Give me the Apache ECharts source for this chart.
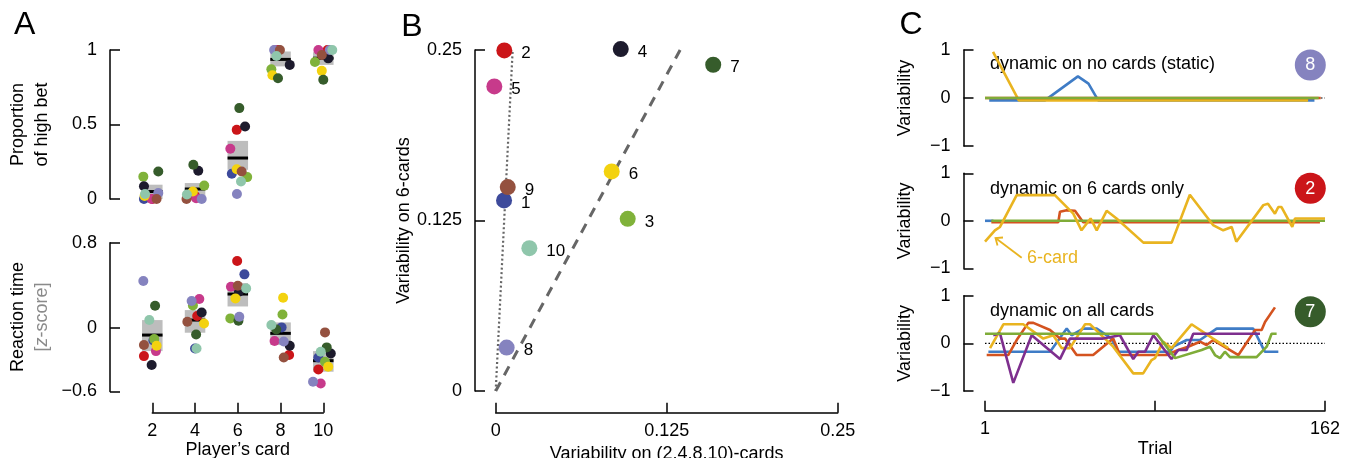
<!DOCTYPE html>
<html><head><meta charset="utf-8">
<script src="https://cdn.jsdelivr.net/npm/echarts@6/dist/echarts.min.js"></script>
<style>html,body{margin:0;padding:0;background:#fff}#c{width:1356px;height:458px}</style>
</head><body><div id="c"></div><script>
const FONT = '"Liberation Sans", Arial, Helvetica, sans-serif';

const cards = [2, 4, 6, 8, 10];
const participants = ['1','2','3','4','5','6','7','8','9','10'];
const participantColors = ['#3d4a9b','#cb1519','#80b23a','#1d1b2d','#c73a8b','#f3d20f','#365c2b','#8583bf','#94513f','#8fc6ab'];

// Panel A (top): proportion of high bet; rows = participants 1..10, columns = cards 2..10
const highBet = [
  [0, 0.04, 0.17, 1, 0.97],
  [0, 0.02, 0.464, 1, 1],
  [0.15, 0.09, 0.147, 0.87, 0.92],
  [0.085, 0.19, 0.487, 0.9, 0.944],
  [0, 0.005, 0.337, 1, 1],
  [0.02, 0.05, 0.2, 0.83, 0.86],
  [0.185, 0.23, 0.61, 0.81, 0.80],
  [0.04, 0, 0.033, 1, 1],
  [0, 0, 0.185, 1, 0.967],
  [0.033, 0.03, 0.118, 0.96, 1]
];
// jittered card values at which each dot is drawn
const highBetCardX = [
  [1.61, 3.85, 5.72, 7.9, 10.1],
  [2.0, 4.0, 5.95, 7.85, 10.2],
  [1.58, 4.43, 6.44, 7.57, 9.61],
  [1.61, 4.15, 6.34, 8.43, 10.23],
  [1.97, 4.05, 5.65, 7.75, 9.77],
  [1.64, 3.9, 5.95, 7.62, 9.93],
  [2.28, 3.92, 6.07, 7.88, 10.0],
  [2.28, 4.31, 5.96, 7.7, 10.3],
  [2.2, 3.6, 6.18, 7.97, 9.93],
  [1.66, 3.62, 6.15, 7.81, 10.42]
];
const highBetMean = [0.05, 0.067, 0.275, 0.937, 0.945];
const highBetLow  = [0.0, 0.0, 0.196, 0.89, 0.90];
const highBetHigh = [0.096, 0.107, 0.39, 0.99, 0.985];

// Panel A (bottom): reaction time z-score
const reactionTime = [
  [-0.12, -0.195, 0.502, 0.003, -0.28],
  [-0.267, 0.11, 0.627, -0.257, -0.392],
  [-0.107, 0.21, 0.088, 0.125, -0.32],
  [-0.35, 0.144, 0.34, -0.17, -0.242],
  [-0.22, 0.27, 0.386, -0.125, -0.524],
  [-0.17, 0.04, 0.276, 0.282, -0.367],
  [0.207, -0.063, 0.066, -0.016, -0.185],
  [0.44, 0.251, 0.104, -0.13, -0.508],
  [-0.163, 0.056, 0.395, -0.28, -0.044],
  [0.072, -0.195, 0.37, 0.025, -0.226]
];
const reactionCardX = [
  [2.05, 4.0, 6.31, 8.05, 9.77],
  [1.61, 4.1, 5.97, 8.4, 9.77],
  [2.09, 3.9, 5.65, 8.09, 10.08],
  [1.97, 4.31, 6.05, 8.43, 10.35],
  [2.17, 4.2, 5.68, 7.72, 9.88],
  [2.2, 4.42, 5.89, 8.12, 10.23],
  [2.13, 4.05, 6.03, 7.8, 10.16],
  [1.58, 3.84, 6.07, 8.15, 9.52],
  [1.61, 3.64, 6.0, 8.15, 10.08],
  [1.86, 4.07, 6.39, 7.57, 9.88]
];
const reactionMean = [-0.069, 0.072, 0.317, -0.053, -0.31];
const reactionLow  = [-0.22, -0.047, 0.2, -0.163, -0.414];
const reactionHigh = [0.072, 0.166, 0.42, 0.05, -0.22];
const reactionTicks = [-0.6, 0, 0.8];

// Panel B
const variabilityOther = [0.0061, 0.0063, 0.0965, 0.0914, -0.001, 0.0848, 0.159, 0.008, 0.0088, 0.0246];
const variabilitySix   = [0.1397, 0.2497, 0.1262, 0.2507, 0.2233, 0.161, 0.2392, 0.0318, 0.1495, 0.1047];
const fitStatic  = [[0, 0], [0.0124, 0.25]];
const fitDynamic = [[0, 0], [0.1348, 0.25]];

// Panel C
const trialTicks = [1, 81.5, 162];
const trialLabels = [1, 162];
const zeroLine = [[1, 0], [162, 0]];
const lineColors = { blue: '#3f7cc6', orange: '#d4531f', yellow: '#e9b420', purple: '#7e2f8e', green: '#7fac38' };
const badgeIds = ['8', '2', '7'];
const dynamicTitles = ['dynamic on no cards (static)', 'dynamic on 6 cards only', 'dynamic on all cards'];

const p8Blue   = [[3,-0.05],[29.4,-0.05],[45,0.45],[50,0.3],[54.6,-0.05],[157,-0.05]];
const p8Yellow = [[4.8,0.96],[17,-0.05],[154,-0.05]];
const p8Orange = [[1,0],[160,0]];
const p8Green  = [[1,0],[159,0]];

const p2Blue   = [[1,0],[5,0]];
const p2Orange = [[4,-0.03],[35.7,-0.03],[36.5,0.19],[39.7,0.22],[43.6,0.21],[47.5,-0.03],[159.6,-0.03]];
const p2Green  = [[4,0],[162,0]];
const p2Yellow = [[1,-0.44],[5.7,-0.2],[8.1,-0.13],[16,0.54],[34.1,0.54],[42.8,0.15],[46.7,-0.2],[51,0.05],[53.9,-0.2],[58.6,0.21],[63.3,0.05],[76,-0.46],[89.4,-0.46],[98,0.55],[109,-0.09],[113.8,-0.2],[117.8,-0.13],[120,-0.44],[132.8,0.33],[135,0.36],[138.3,0.15],[139.9,0.29],[141.4,0.29],[146.5,-0.13],[147.8,0.05],[162,0.05]];

const p7Blue   = [[2.6,-0.175],[31.8,-0.175],[39.7,0.31],[42,0.17],[47.5,0.31],[53.9,0.31],[61,0.1],[64.1,-0.175],[88.6,-0.175],[90.2,-0.07],[96.5,0.07],[102.8,0.07],[110.7,0.31],[128,0.31],[133.5,-0.175],[139.9,-0.175]];
const p7Orange = [[1.8,-0.245],[12,-0.245],[16,0.07],[21.5,0.43],[23.9,0.43],[31.8,0.28],[36.5,0.1],[38.9,0.1],[44.4,-0.245],[52.2,-0.245],[61.7,0.1],[64.9,-0.245],[87,-0.245],[92.5,-0.14],[97.2,-0.07],[102.8,0.035],[105.9,-0.035],[109.1,0.07],[121,-0.245],[128.9,0.28],[132,0.28],[133.6,0.45],[138.3,0.755]];
const p7Yellow = [[3.4,-0.1],[9.7,0.4],[19.1,0.4],[28.6,0.1],[33.3,0.17],[37.3,-0.1],[41.2,-0.1],[48.4,0.4],[50.7,0.4],[61.7,-0.07],[71.2,-0.63],[75.9,-0.63],[79.9,-0.35],[81.5,-0.31],[85.4,0.035],[89.3,-0.1],[98.8,0.4],[109,0.1],[116.2,-0.1]];
const p7Purple = [[4.9,0.17],[8.1,0.21],[14.4,-0.83],[23.1,0.17],[36.5,-0.33],[41.2,0.1],[57,0.1],[64.9,0.17],[71.2,-0.33],[73.6,-0.175],[76.8,-0.175],[80.7,0.17],[89.3,-0.33],[92.5,-0.14],[96.5,-0.14],[99.6,0.2],[131.2,0.2]];
const p7Green  = [[1,0.2],[82.3,0.2],[91,-0.31],[103.6,-0.14],[107.5,-0.07],[109.9,-0.245],[112.3,-0.31],[114.6,-0.175],[117,-0.29],[129.6,-0.29],[134.4,-0.07],[136.7,0.2],[139.1,0.2]];

const minus = v => String(v).replace('-', '\u2212');
const axisLineStyle = { color: '#000', width: 1.5 };
function yAxisBase(extra) {
  return Object.assign({
    type: 'value', position: 'left',
    axisLine: { show: true, onZero: false, lineStyle: axisLineStyle },
    axisTick: { show: true, inside: true, length: 10, lineStyle: axisLineStyle },
    axisLabel: { show: true, color: '#000', fontSize: 18, fontFamily: FONT, margin: 13, formatter: minus },
    splitLine: { show: false },
    nameLocation: 'middle',
    nameTextStyle: { color: '#000', fontSize: 18, fontFamily: FONT }
  }, extra);
}
function xAxisBase(extra) {
  return Object.assign({
    type: 'value', position: 'bottom',
    axisLine: { show: true, onZero: false, lineStyle: axisLineStyle },
    axisTick: { show: true, inside: true, length: 10, lineStyle: axisLineStyle },
    axisLabel: { show: true, color: '#000', fontSize: 18, fontFamily: FONT, margin: 9, formatter: minus },
    splitLine: { show: false },
    nameLocation: 'middle', nameGap: 27,
    nameTextStyle: { color: '#000', fontSize: 18, fontFamily: FONT }
  }, extra);
}

const grids = [
  { left: 152.3, top: 50, width: 171, height: 149 },
  { left: 152.3, top: 242.7, width: 171, height: 148.8 },
  { left: 495.7, top: 50, width: 342, height: 341 },
  { left: 985, top: 50, width: 340, height: 96 },
  { left: 985, top: 173.3, width: 340, height: 95 },
  { left: 985, top: 295.7, width: 340, height: 95.3 }
].map(g => Object.assign({ outerBoundsMode: 'none', containLabel: false }, g));

const xAxes = [
  xAxisBase({ gridIndex: 0, min: 2, max: 10, interval: 2, show: false }),
  xAxisBase({ gridIndex: 1, min: 2, max: 10, interval: 2, offset: 21.2, name: 'Player\u2019s card' }),
  xAxisBase({ gridIndex: 2, min: 0, max: 0.25, interval: 0.125, offset: 21.7, name: 'Variability on (2,4,8,10)-cards' }),
  xAxisBase({ gridIndex: 3, min: 1, max: 162, show: false }),
  xAxisBase({ gridIndex: 4, min: 1, max: 162, show: false }),
  xAxisBase({ gridIndex: 5, min: 1, max: 162, offset: 19.7, name: 'Trial', nameGap: 29,
    axisTick: { show: true, inside: true, length: 10, lineStyle: axisLineStyle, customValues: trialTicks },
    axisLabel: { show: true, color: '#000', fontSize: 18, fontFamily: FONT, margin: 9, customValues: trialLabels } })
];

const yAxes = [
  yAxisBase({ gridIndex: 0, min: 0, max: 1, interval: 0.5, offset: 42.3, name: 'Proportion\nof high bet', nameGap: 56,
    nameTextStyle: { color: '#000', fontSize: 18, fontFamily: FONT, lineHeight: 24 } }),
  yAxisBase({ gridIndex: 1, min: -0.6, max: 0.8, offset: 42.3, nameGap: 56,
    name: '{a|Reaction time}\n{g|[}{gi|z}{g|-score]}',
    nameTextStyle: { color: '#000', fontSize: 18, fontFamily: FONT, lineHeight: 24,
      rich: {
        a: { color: '#000', fontSize: 18, fontFamily: FONT, lineHeight: 24 },
        g: { color: '#8a8a8a', fontSize: 18, fontFamily: FONT, lineHeight: 24 },
        gi: { color: '#8a8a8a', fontSize: 18, fontFamily: FONT, lineHeight: 24, fontStyle: 'italic' }
      } },
    axisTick: { show: true, inside: true, length: 10, lineStyle: axisLineStyle, customValues: reactionTicks },
    axisLabel: { show: true, color: '#000', fontSize: 18, fontFamily: FONT, margin: 13, formatter: minus, customValues: reactionTicks } }),
  yAxisBase({ gridIndex: 2, min: 0, max: 0.25, interval: 0.125, offset: 20.7, name: 'Variability on 6-cards', nameGap: 60 }),
  yAxisBase({ gridIndex: 3, min: -1, max: 1, interval: 1, offset: 21.5, name: 'Variability', nameGap: 49 }),
  yAxisBase({ gridIndex: 4, min: -1, max: 1, interval: 1, offset: 21.5, name: 'Variability', nameGap: 49 }),
  yAxisBase({ gridIndex: 5, min: -1, max: 1, interval: 1, offset: 21.5, name: 'Variability', nameGap: 49 })
];

function boxRender(params, api) {
  const x = api.value(0), lo = api.value(1), hi = api.value(2), m = api.value(3);
  const halfW = 0.48;
  const tl = api.coord([x - halfW, hi]);
  const br = api.coord([x + halfW, lo]);
  const ml = api.coord([x - halfW, m]);
  const mr = api.coord([x + halfW, m]);
  return { type: 'group', children: [
    { type: 'rect', shape: { x: tl[0], y: tl[1], width: br[0] - tl[0], height: br[1] - tl[1] }, style: { fill: '#bdbdbd' } },
    { type: 'line', shape: { x1: ml[0], y1: ml[1], x2: mr[0], y2: mr[1] }, style: { stroke: '#000', lineWidth: 3 } }
  ] };
}

const series = [];
// Panel A boxes (mean line + interval)
series.push({ type: 'custom', xAxisIndex: 0, yAxisIndex: 0, renderItem: boxRender, silent: true, z: 1,
  encode: { x: 0, y: [1, 2, 3] },
  data: cards.map((c, i) => [c, highBetLow[i], highBetHigh[i], highBetMean[i]]) });
series.push({ type: 'custom', xAxisIndex: 1, yAxisIndex: 1, renderItem: boxRender, silent: true, z: 1,
  encode: { x: 0, y: [1, 2, 3] },
  data: cards.map((c, i) => [c, reactionLow[i], reactionHigh[i], reactionMean[i]]) });
// Panel A dots
participants.forEach((p, k) => {
  const base = { type: 'scatter', name: p, symbolSize: 10, clip: false, silent: true, z: 3,
    itemStyle: { color: participantColors[k], opacity: 1 } };
  series.push(Object.assign({}, base, { xAxisIndex: 0, yAxisIndex: 0,
    data: cards.map((c, i) => [highBetCardX[k][i], highBet[k][i]]) }));
  series.push(Object.assign({}, base, { xAxisIndex: 1, yAxisIndex: 1,
    data: cards.map((c, i) => [reactionCardX[k][i], reactionTime[k][i]]) }));
});
// Panel B fit lines
series.push({ type: 'line', xAxisIndex: 2, yAxisIndex: 2, data: fitStatic, symbol: 'none', silent: true, z: 2,
  lineStyle: { color: '#666', width: 2.2, type: [2, 2.5] } });
series.push({ type: 'line', xAxisIndex: 2, yAxisIndex: 2, data: fitDynamic, symbol: 'none', silent: true, z: 2,
  lineStyle: { color: '#666', width: 3, type: [10, 8] } });
// Panel B participants
participants.forEach((p, k) => {
  series.push({ type: 'scatter', name: 'B' + p, xAxisIndex: 2, yAxisIndex: 2, symbolSize: 16, clip: false, silent: true, z: 3,
    itemStyle: { color: participantColors[k], opacity: 1 },
    label: { show: true, position: 'right', distance: 9, offset: [0, 3], formatter: () => p,
      color: '#000', fontSize: 17, fontFamily: FONT },
    data: [[variabilityOther[k], variabilitySix[k]]] });
});
// Panel C
function cLine(gi, data, color, opts) {
  return Object.assign({ type: 'line', xAxisIndex: gi, yAxisIndex: gi, data: data, symbol: 'none', silent: true,
    clip: false, lineStyle: { color: color, width: 2.6 }, itemStyle: { color: color }, z: 3 }, opts || {});
}
[3, 4, 5].forEach(gi => series.push(cLine(gi, zeroLine, '#000', { lineStyle: { color: '#000', width: 1.2, type: [1.5, 2] }, z: 2 })));
series.push(cLine(3, p8Blue, lineColors.blue));
series.push(cLine(3, p8Yellow, lineColors.yellow));
series.push(cLine(3, p8Orange, lineColors.orange));
series.push(cLine(3, p8Green, lineColors.green));
series.push(cLine(4, p2Blue, lineColors.blue));
series.push(cLine(4, p2Orange, lineColors.orange));
series.push(cLine(4, p2Green, lineColors.green));
series.push(cLine(4, p2Yellow, lineColors.yellow));
series.push(cLine(5, p7Blue, lineColors.blue));
series.push(cLine(5, p7Orange, lineColors.orange));
series.push(cLine(5, p7Yellow, lineColors.yellow));
series.push(cLine(5, p7Purple, lineColors.purple));
series.push(cLine(5, p7Green, lineColors.green));

// annotations
const graphic = [];
[['A', 24.7, 25.5], ['B', 412, 27], ['C', 911, 25.5]].forEach(([t, x, y]) => {
  graphic.push({ type: 'text', x: x, y: y, silent: true,
    style: { text: t, fill: '#000', fontSize: 32, fontFamily: FONT, align: 'center', verticalAlign: 'middle' } });
});
const titleY = [64, 189, 311.5];
const badgeY = [65, 188.3, 311.7];
dynamicTitles.forEach((t, i) => {
  graphic.push({ type: 'text', x: 990, y: titleY[i], silent: true,
    style: { text: t, fill: '#000', fontSize: 18, fontFamily: FONT, align: 'left', verticalAlign: 'middle' } });
  const k = participants.indexOf(badgeIds[i]);
  graphic.push({ type: 'circle', shape: { cx: 1310.3, cy: badgeY[i], r: 15.5 }, silent: true,
    style: { fill: participantColors[k] } });
  graphic.push({ type: 'text', x: 1310.3, y: badgeY[i] + 0.5, silent: true,
    style: { text: badgeIds[i], fill: '#fff', fontSize: 18, fontFamily: FONT, align: 'center', verticalAlign: 'middle' } });
});
graphic.push({ type: 'text', x: 1027, y: 258.5, silent: true,
  style: { text: '6-card', fill: lineColors.yellow, fontSize: 18, fontFamily: FONT, align: 'left', verticalAlign: 'middle' } });
graphic.push({ type: 'line', silent: true, shape: { x1: 1021.7, y1: 257.7, x2: 995.5, y2: 238 },
  style: { stroke: lineColors.yellow, lineWidth: 1.8 } });
graphic.push({ type: 'polyline', silent: true, shape: { points: [[997.5, 245.5], [995.5, 238], [1003, 237.5]] },
  style: { stroke: lineColors.yellow, lineWidth: 1.8, fill: null } });

const chart = echarts.init(document.getElementById('c'), null, { renderer: 'canvas' });
chart.setOption({
  animation: false,
  backgroundColor: '#fff',
  textStyle: { fontFamily: FONT },
  grid: grids, xAxis: xAxes, yAxis: yAxes, series: series, graphic: graphic
});
</script></body></html>
